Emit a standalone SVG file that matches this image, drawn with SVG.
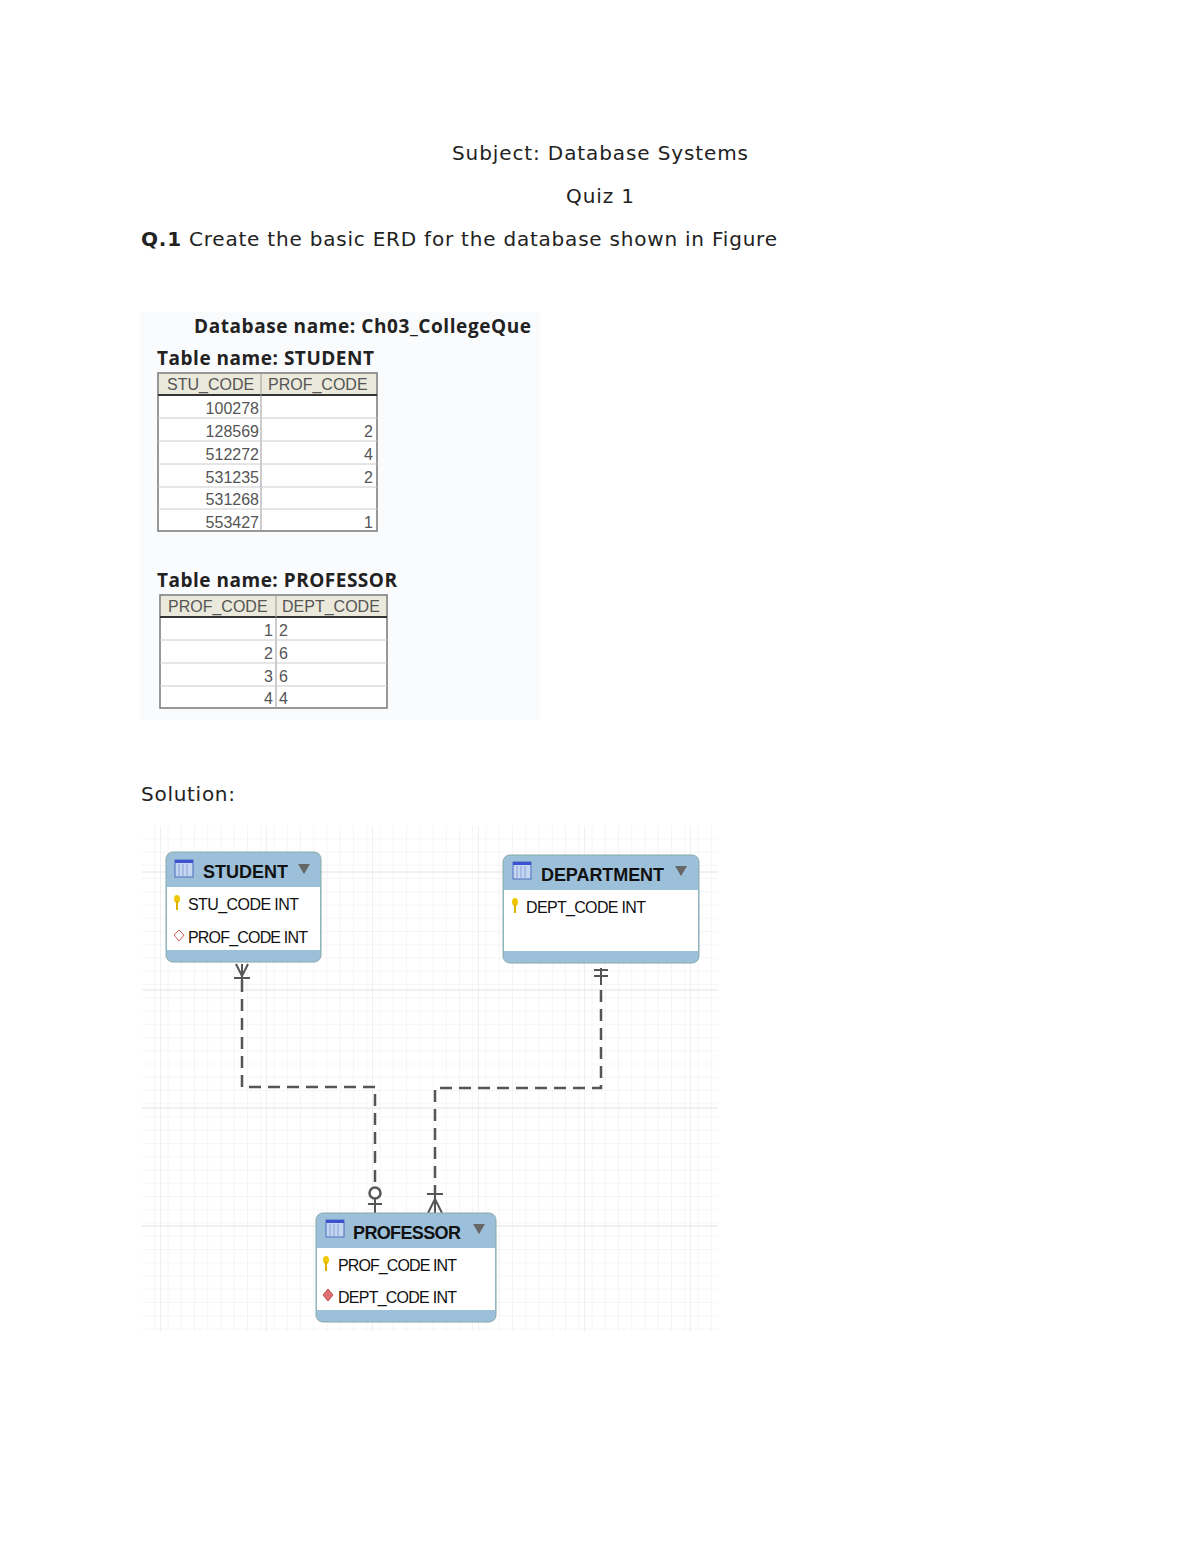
<svg xmlns="http://www.w3.org/2000/svg" width="1200" height="1553" viewBox="0 0 1200 1553">
<defs>
<style>
.t{font-family:"DejaVu Sans","Noto Sans",sans-serif;fill:#222}
.b{font-family:"Open Sans","Noto Sans",sans-serif;font-weight:bold;fill:#222}
.c{font-family:"Liberation Sans",Arial,sans-serif;font-size:16px;fill:#555}
.e{font-family:"Liberation Sans",Arial,sans-serif;font-size:16px;fill:#111}
.h{font-family:"Liberation Sans",Arial,sans-serif;font-size:18px;font-weight:bold;fill:#111}
.tb{fill:#fff;stroke:#777;stroke-width:1.5}
.rl{stroke:#ccc;stroke-width:1}
.cn{fill:none;stroke:#555;stroke-width:2.5;stroke-dasharray:12,7}
.ln{fill:none;stroke:#555;stroke-width:2}
</style>
<pattern id="g" x="142" y="826" width="13.25" height="13.25" patternUnits="userSpaceOnUse"><path d="M13.25 0V13.25H0" fill="none" stroke="#ededed" stroke-width="1"/></pattern>
<pattern id="G" x="160" y="826" width="106" height="118" patternUnits="userSpaceOnUse"><path d="M0 0V118M0 46H106" fill="none" stroke="#e2e2e2" stroke-width="1"/></pattern>
<g id="icon"><rect x="0" y="0" width="18" height="17" fill="#c5d6f0" stroke="#4a6fc0"/><rect x="0" y="0" width="18" height="3" fill="#3a52d0"/><path d="M4 4V16M8 4V16M12 4V16" stroke="#8aa2d8"/></g>
<g id="key"><ellipse cx="3" cy="4" rx="3" ry="4" fill="#f0c800"/><rect x="2" y="6" width="2" height="9" fill="#e0b000"/></g>
</defs>
<rect width="1200" height="1553" fill="#fff"/>
<text class="t" x="452" y="160" font-size="20" textLength="296">Subject: Database Systems</text>
<text class="t" x="566" y="203" font-size="20" textLength="68">Quiz 1</text>
<text class="t" x="141" y="246" font-size="20" textLength="636"><tspan font-weight="bold">Q.1</tspan> Create the basic ERD for the database shown in Figure</text>
<rect x="140" y="312" width="400" height="408" fill="#fafbfd"/>
<text class="b" x="194" y="333" font-size="19" textLength="337">Database name: Ch03_CollegeQue</text>
<text class="b" x="157" y="365" font-size="19" textLength="217">Table name: STUDENT</text>
<g id="student-table">
<rect class="tb" x="158" y="373" width="219" height="158"/>
<rect x="159" y="374" width="217" height="21" fill="#ebe9dc"/>
<line x1="158" y1="395" x2="377" y2="395" stroke="#333" stroke-width="2"/>
<line x1="261" y1="373" x2="261" y2="531" stroke="#999"/>
<g class="rl"><line x1="158" y1="418" x2="377" y2="418"/><line x1="158" y1="441" x2="377" y2="441"/><line x1="158" y1="464" x2="377" y2="464"/><line x1="158" y1="487" x2="377" y2="487"/><line x1="158" y1="509" x2="377" y2="509"/></g>
<text class="c" x="167" y="390">STU_CODE</text><text class="c" x="268" y="390">PROF_CODE</text>
<g class="c" text-anchor="end"><text x="259" y="414">100278</text><text x="259" y="437">128569</text><text x="259" y="460">512272</text><text x="259" y="483">531235</text><text x="259" y="505">531268</text><text x="259" y="528">553427</text>
<text x="373" y="437">2</text><text x="373" y="460">4</text><text x="373" y="483">2</text><text x="373" y="528">1</text></g>
</g>
<text class="b" x="157" y="587" font-size="19" textLength="240">Table name: PROFESSOR</text>
<g id="professor-table">
<rect class="tb" x="160" y="595" width="227" height="113"/>
<rect x="161" y="596" width="225" height="21" fill="#ebe9dc"/>
<line x1="160" y1="617" x2="387" y2="617" stroke="#333" stroke-width="2"/>
<line x1="276" y1="595" x2="276" y2="708" stroke="#999"/>
<g class="rl"><line x1="160" y1="640" x2="387" y2="640"/><line x1="160" y1="663" x2="387" y2="663"/><line x1="160" y1="686" x2="387" y2="686"/></g>
<text class="c" x="168" y="612">PROF_CODE</text><text class="c" x="282" y="612">DEPT_CODE</text>
<g class="c"><text x="273" y="636" text-anchor="end">1</text><text x="273" y="659" text-anchor="end">2</text><text x="273" y="682" text-anchor="end">3</text><text x="273" y="704" text-anchor="end">4</text>
<text x="279" y="636">2</text><text x="279" y="659">6</text><text x="279" y="682">6</text><text x="279" y="704">4</text></g>
</g>
<text class="t" x="141" y="801" font-size="20" textLength="94">Solution:</text>
<rect x="142" y="826" width="576" height="506" fill="url(#g)"/>
<rect x="142" y="826" width="576" height="506" fill="url(#G)"/>
<g id="connectors">
<path class="cn" d="M242 980V1087H375V1188"/>
<path class="cn" d="M601 990V1088H435V1195"/>
<path class="ln" d="M236 964L242 976L248 964M242 964V990M234 978H250"/>
<path class="ln" d="M594 970H608M594 976H608M601 968V985"/>
<circle cx="375" cy="1193" r="5.5" fill="#fff" stroke="#555" stroke-width="2.5"/>
<path class="ln" d="M375 1198V1213M368 1204H382"/>
<path class="ln" d="M435 1193V1213M427 1194H443M428 1213L435 1199L442 1213"/>
</g>
<g id="student">
<rect x="166" y="852" width="155" height="110" rx="7" fill="#9dc0da" stroke="#8aa"/>
<rect x="167" y="887" width="153" height="63" fill="#fff"/>
<use href="#icon" x="175" y="860"/>
<text class="h" x="203" y="878" textLength="85">STUDENT</text>
<path d="M298 864H310L304 874Z" fill="#666"/>
<use href="#key" x="174" y="895"/>
<text class="e" x="188" y="910" textLength="111">STU_CODE INT</text>
<path d="M179 930L184 935L179 941L174 935Z" fill="#fff" stroke="#d06060"/>
<text class="e" x="188" y="943" textLength="120">PROF_CODE INT</text>
</g>
<g id="department">
<rect x="503" y="855" width="196" height="108" rx="7" fill="#9dc0da" stroke="#8aa"/>
<rect x="504" y="890" width="194" height="61" fill="#fff"/>
<use href="#icon" x="513" y="862"/>
<text class="h" x="541" y="881" textLength="123">DEPARTMENT</text>
<path d="M675 866H687L681 876Z" fill="#666"/>
<use href="#key" x="512" y="898"/>
<text class="e" x="526" y="913" textLength="120">DEPT_CODE INT</text>
</g>
<g id="professor">
<rect x="316" y="1213" width="180" height="109" rx="7" fill="#9dc0da" stroke="#8aa"/>
<rect x="317" y="1248" width="178" height="62" fill="#fff"/>
<use href="#icon" x="326" y="1220"/>
<text class="h" x="353" y="1239" textLength="108">PROFESSOR</text>
<path d="M473 1224H485L479 1234Z" fill="#666"/>
<use href="#key" x="323" y="1256"/>
<text class="e" x="338" y="1271" textLength="119">PROF_CODE INT</text>
<path d="M328 1289L333 1295L328 1301L323 1295Z" fill="#e07070" stroke="#c05050"/>
<text class="e" x="338" y="1303" textLength="119">DEPT_CODE INT</text>
</g>
</svg>
